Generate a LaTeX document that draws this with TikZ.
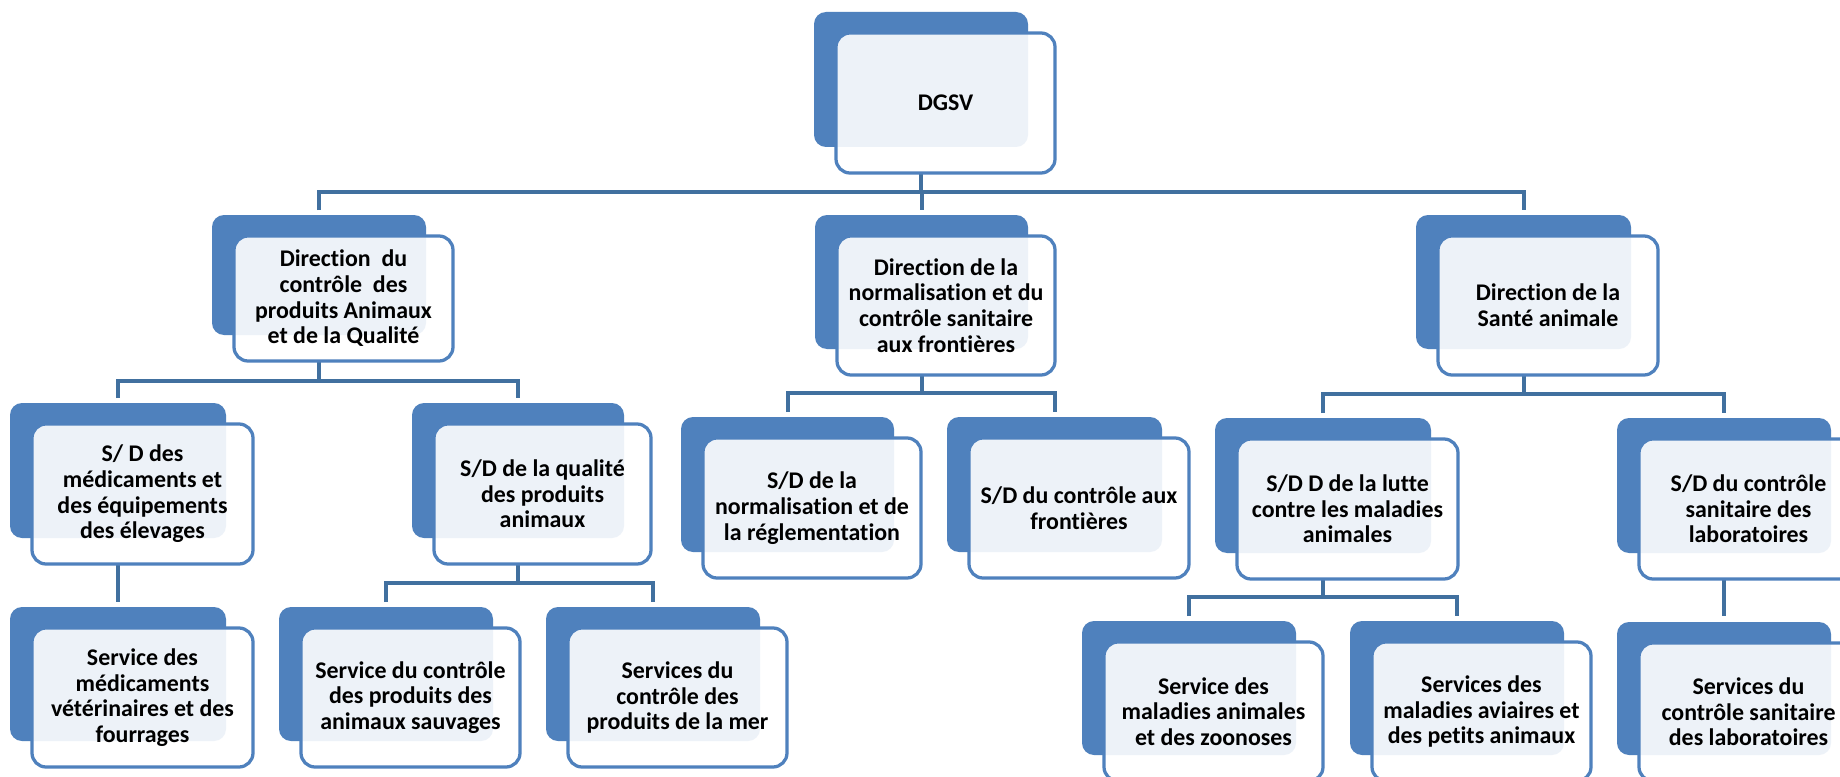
\documentclass[tikz,border=0pt]{standalone}
\usepackage{fontspec}
\setmainfont{Carlito}[Ligatures={NoCommon}]
\definecolor{boxblue}{HTML}{4F81BD}
\definecolor{linkblue}{HTML}{41709F}
\pgfdeclarelayer{bg}
\pgfsetlayers{bg,main}
\def\pxu{0.02cm}
\tikzset{
  backbox/.style={rectangle, rounded corners=0.24cm, fill=boxblue, inner sep=0pt, outer sep=0pt},
  frontbox/.style={rectangle, rounded corners=0.28cm, draw=boxblue, line width=0.065cm,
    fill=white, fill opacity=0.9, text opacity=1, draw opacity=1, inner sep=0pt, outer sep=0pt,
    align=center, font=\bfseries\fontsize{13.6}{14.6}\selectfont},
  conn/.style={draw=linkblue, line width=0.08cm},
  gap/.style={shorten <=0.1cm, shorten >=0.1cm},
}
% name, x1, y1, x2, y2 (back box, reference pixels), text
\newcommand\orgbox[6]{%
  \node[backbox, minimum width={(#4-#2)*\pxu}, minimum height={(#5-#3)*\pxu}]
    (#1b) at ({(#2+#4)/2},{(#3+#5)/2}) {};
  \node[frontbox, minimum width={(#4-#2+5)*\pxu}, minimum height={(#5-#3+5)*\pxu}]
    (#1) at ({(#2+#4)/2+24.5},{(#3+#5)/2+23.5}) {#6};
}
\begin{document}
\begin{tikzpicture}[x=0.02cm, y=-0.02cm]
\useasboundingbox (0,0) rectangle (1840,777);
\clip (0,0) rectangle (1840,777);

\orgbox{dgsv}{814}{12}{1028}{147}{DGSV}
\orgbox{da}{212}{215}{426}{335}{Direction~ du\\contrôle~ des\\produits Animaux\\et de la Qualité}
\orgbox{dn}{815}{215}{1028}{349}{Direction de la\\normalisation et du\\contrôle sanitaire\\aux frontières}
\orgbox{ds}{1416}{215}{1631}{349}{Direction de la\\Santé animale}

\orgbox{sa}{10}{403}{226}{538}{S/ D des\\médicaments et\\des équipements\\des élevages}
\orgbox{sq}{412}{403}{624}{538}{S/D de la qualité\\des produits\\animaux}
\orgbox{sn}{681}{417}{894}{552}{S/D de la\\normalisation et de\\la réglementation}
\orgbox{sf}{947}{417}{1162}{552}{S/D du contrôle aux\\frontières}
\orgbox{sl}{1215}{418}{1431}{553}{S/D D de la lutte\\contre les maladies\\animales}
\orgbox{sc}{1617}{418}{1831}{553}{S/D du contrôle\\sanitaire des\\laboratoires}

\orgbox{tm}{10}{607}{226}{741}{Service des\\médicaments\\vétérinaires et des\\fourrages}
\orgbox{tw}{279}{607}{493}{741}{Service du contrôle\\des produits des\\animaux sauvages}
\orgbox{tp}{546}{607}{760}{741}{Services du\\contrôle des\\produits de la mer}
\orgbox{tz}{1082}{621}{1296}{755}{Service des\\maladies animales\\et des zoonoses}
\orgbox{tv}{1350}{621}{1564}{755}{Services des\\maladies aviaires et\\des petits animaux}
\orgbox{tl}{1617}{622}{1831}{755}{Services du\\contrôle sanitaire\\des laboratoires}

\coordinate (bar0) at (0,192);
\coordinate (bar1) at (0,381);
\coordinate (bar2) at (0,393);
\coordinate (bar3) at (0,394);
\coordinate (bar4) at (0,583);
\coordinate (bar5) at (0,597);

\begin{pgfonlayer}{bg}
  \fill[white] (0,0) rectangle (1840,777);
  % DGSV
  \draw[conn] (dgsvb.center |- dgsv.south) -- (dgsvb.center |- bar0);
  \draw[conn, gap] (dab.north) -- (dab.north |- bar0) -- (dsb.north |- bar0) -- (dsb.north);
  \draw[conn, shorten >=0.1cm] (dnb.north |- bar0) -- (dnb.north);
  % Direction contrôle produits
  \draw[conn] (dab.center |- da.south) -- (dab.center |- bar1);
  \draw[conn, gap] (sab.north) -- (sab.north |- bar1) -- (sqb.north |- bar1) -- (sqb.north);
  % Direction normalisation
  \draw[conn] (dnb.center |- dn.south) -- (dnb.center |- bar2);
  \draw[conn, gap] (snb.north) -- (snb.north |- bar2) -- (sfb.north |- bar2) -- (sfb.north);
  % Direction santé
  \draw[conn] (dsb.center |- ds.south) -- (dsb.center |- bar3);
  \draw[conn, gap] (slb.north) -- (slb.north |- bar3) -- (scb.north |- bar3) -- (scb.north);
  % S/D médicaments
  \draw[conn, shorten >=0.1cm] (sab.center |- sa.south) -- (tmb.north);
  % S/D qualité
  \draw[conn] (sqb.center |- sq.south) -- (sqb.center |- bar4);
  \draw[conn, gap] (twb.north) -- (twb.north |- bar4) -- (tpb.north |- bar4) -- (tpb.north);
  % S/D lutte
  \draw[conn] (slb.center |- sl.south) -- (slb.center |- bar5);
  \draw[conn, gap] (tzb.north) -- (tzb.north |- bar5) -- (tvb.north |- bar5) -- (tvb.north);
  % S/D laboratoires
  \draw[conn, shorten >=0.12cm] (scb.center |- sc.south) -- (tlb.north);
\end{pgfonlayer}
\end{tikzpicture}
\end{document}
